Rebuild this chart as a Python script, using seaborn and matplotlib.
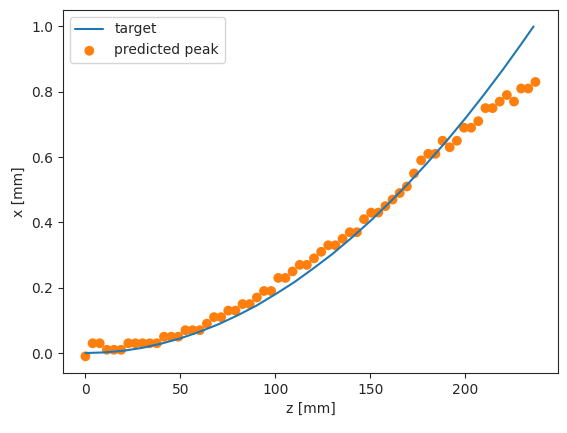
import numpy as np
import matplotlib
matplotlib.use("Agg")
import matplotlib.pyplot as plt
import seaborn as sns

sns.set_style("ticks")
plt.rcParams["font.family"] = ["DejaVu Sans"]

# target curve
target_z = [0, 10, 20, 30, 40, 50, 60, 70, 80, 90, 100, 110, 120, 130, 140,
            150, 160, 170, 180, 190, 200, 210, 220, 230, 236]
target_x = [0.0, 0.002, 0.007, 0.016, 0.029, 0.045, 0.065, 0.088, 0.115, 0.145,
            0.180, 0.217, 0.259, 0.303, 0.352, 0.404, 0.460, 0.519, 0.582, 0.648,
            0.718, 0.792, 0.869, 0.950, 1.0]

# predicted peak positions (64 samples over 0..237 mm)
peak_z = np.linspace(0, 237, 64)
peak_x = [-0.01, 0.03, 0.03, 0.01, 0.01, 0.01, 0.03, 0.03, 0.03, 0.03, 0.03,
          0.05, 0.05, 0.05, 0.07, 0.07, 0.07, 0.09, 0.11, 0.11, 0.13, 0.13,
          0.15, 0.15, 0.17, 0.19, 0.19, 0.23, 0.23, 0.25, 0.27, 0.27, 0.29,
          0.31, 0.33, 0.33, 0.35, 0.37, 0.37, 0.41, 0.43, 0.43, 0.45, 0.47,
          0.49, 0.51, 0.55, 0.59, 0.61, 0.61, 0.65, 0.63, 0.65, 0.69, 0.69,
          0.71, 0.75, 0.75, 0.77, 0.79, 0.77, 0.81, 0.81, 0.83]

fig, ax = plt.subplots(figsize=(5.67, 4.33), dpi=100)
sns.lineplot(x=target_z, y=target_x, ax=ax, color="#1f77b4", label="target")
sns.scatterplot(x=peak_z, y=peak_x, ax=ax, color="#ff7f0e", s=50,
                edgecolor="none", label="predicted peak")
ax.set_xlabel("z [mm]")
ax.set_ylabel("x [mm]")
ax.legend(loc="upper left")
plt.subplots_adjust(left=0.111, right=0.984, top=0.977, bottom=0.139)
plt.savefig("out.png")
